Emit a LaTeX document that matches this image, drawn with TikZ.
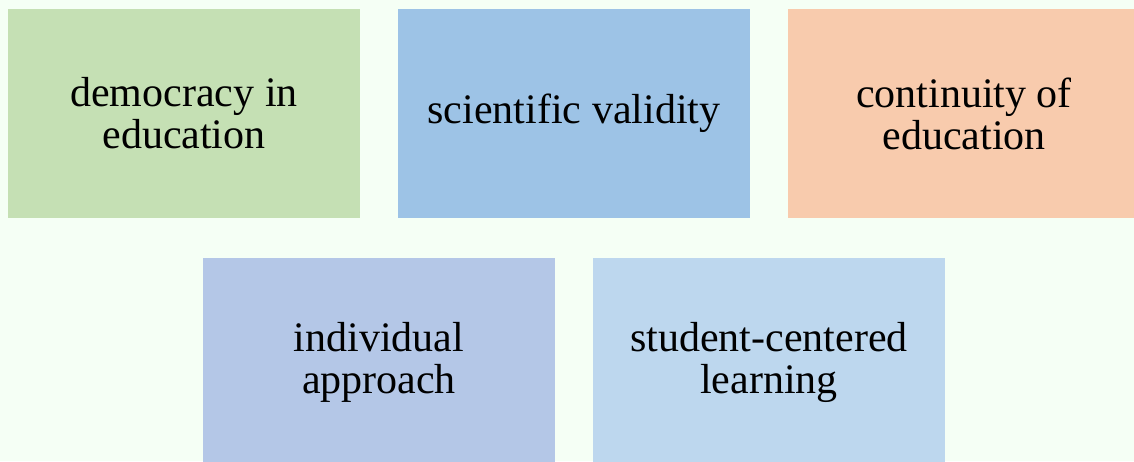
\documentclass[tikz,border=0pt]{standalone}
\usepackage{fontspec}
\setmainfont{Liberation Serif}
\definecolor{bgc}{HTML}{F5FFF5}
\definecolor{cgreen}{HTML}{C5E0B4}
\definecolor{cblue}{HTML}{9DC3E6}
\definecolor{corange}{HTML}{F8CBAD}
\definecolor{cperi}{HTML}{B4C7E7}
\definecolor{clight}{HTML}{BDD7EE}
\tikzset{
  tile/.style={minimum width=352pt, minimum height=209pt, inner sep=0pt, align=center,
    font=\fontsize{42}{42}\selectfont}
}
\begin{document}
\begin{tikzpicture}[x=1pt,y=1pt]
\fill[bgc] (0,0) rectangle (1134,-461);
\useasboundingbox (0,0) rectangle (1134,-461);
\node[tile, fill=cgreen] (a) at (184,-113.5) {democracy in\\education};
\node[tile, fill=cblue] (b) at (574,-113.5) {scientific validity};
\node[tile, fill=corange] (c) at (964,-113.5) {continuity of\\education};
\node[tile, fill=cperi] (d) at (379,-362.5) {individual\\approach};
\node[tile, fill=clight] (e) at (769,-362.5) {student-centered\\learning};
\end{tikzpicture}
\end{document}
